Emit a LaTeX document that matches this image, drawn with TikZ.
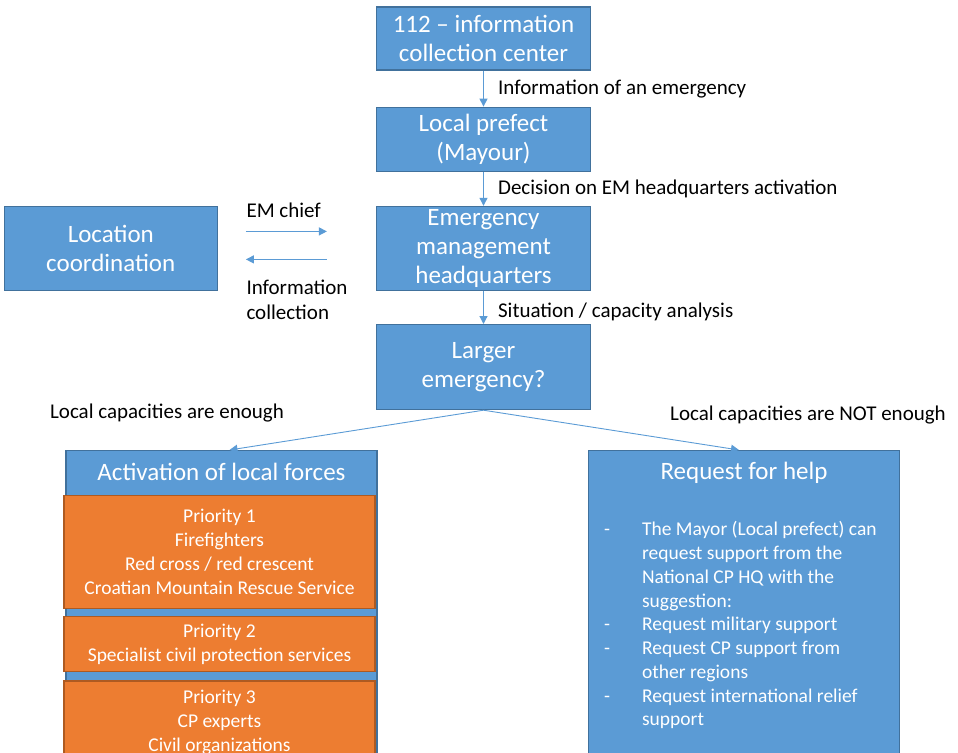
\documentclass[tikz,border=0pt]{standalone}
\usepackage{fontspec}
\setmainfont{Carlito}
\usetikzlibrary{positioning,arrows.meta}
\usepackage{xcolor}
\definecolor{officeblue}{HTML}{5B9BD5}
\definecolor{blueedge}{HTML}{41719C}
\definecolor{officeorange}{HTML}{ED7D31}
\definecolor{orangeedge}{HTML}{AE5A21}

\begin{document}
\begin{tikzpicture}[
    x=1pt, y=1pt,
    >={Triangle[length=8pt, width=8pt]},
    every node/.style={inner sep=0pt},
    block/.style={draw=blueedge, fill=officeblue, line width=1.2pt, text=white,
        minimum width=214pt, align=center, font=\fontsize{25}{29}\selectfont},
    panel/.style={draw=blueedge, fill=officeblue, line width=1.2pt, minimum width=311pt},
    paneltitle/.style={text=white, font=\fontsize{25}{29}\selectfont},
    prio/.style={draw=orangeedge, fill=officeorange, line width=1.2pt, text=white,
        minimum width=311pt, inner ysep=6pt, align=center,
        font=\fontsize{19.5}{24}\selectfont},
    listtext/.style={text=white, align=left, font=\fontsize{19.5}{23.75}\selectfont},
    flow/.style={->, draw=officeblue, line width=1.2pt},
    note/.style={text=black, font=\fontsize{21}{25}\selectfont}
]
    \useasboundingbox (0,0) rectangle (958,-752);

    % main column
    \node[block, minimum height=63pt] (center112) at (483.5,-38.5) {112 – information\\collection center};
    \node[block, minimum height=64pt, below=36pt of center112] (prefect) {Local prefect\\(Mayour)};
    \node[block, minimum height=84pt, below=34pt of prefect] (emhq) {Emergency\\management\\headquarters};
    \node[block, minimum height=85pt, below=33pt of emhq] (larger) {Larger\\emergency?};
    \node[block, minimum width=213pt, minimum height=84pt, left=158pt of emhq] (loccoord) {Location\\coordination};

    \draw[flow] (center112) -- node[note, right=14pt] {Information of an emergency} (prefect);
    \draw[flow] (prefect) -- node[note, right=14pt] {Decision on EM headquarters activation} (emhq);
    \draw[flow] (emhq) -- node[note, right=14pt, yshift=-4pt] {Situation / capacity analysis} (larger);

    % exchange with location coordination
    \coordinate (chiefstart) at ([shift={(28pt,17pt)}]loccoord.east);
    \coordinate (chiefend) at ([shift={(-49pt,17pt)}]emhq.west);
    \coordinate (infostart) at ([shift={(-49pt,-11pt)}]emhq.west);
    \coordinate (infoend) at ([shift={(28pt,-11pt)}]loccoord.east);
    \draw[flow] (chiefstart) -- node[note, pos=0, anchor=south west, yshift=13pt] {EM chief} (chiefend);
    \draw[flow] (infostart) -- node[note, pos=1, anchor=north west, align=left, yshift=-20pt] {Information\\collection} (infoend);

    % two outcomes
    \node[panel, minimum height=310pt, anchor=north] (act) at (221.5,-450) {};
    \node[paneltitle] (acttitle) at ([yshift=-22pt]act.north) {Activation of local forces};
    \node[panel, minimum height=310pt, anchor=north] (request) at (744,-450) {};
    \node[paneltitle] (requesttitle) at ([yshift=-23pt]request.north) {Request for help};

    \draw[flow, line width=0.9pt] (larger.south) -- ([xshift=8pt]act.north);
    \draw[flow, line width=0.9pt] (larger.south) -- ([xshift=-5pt]request.north);
    \node[note] (enough) at (167,-413) {Local capacities are enough};
    \node[note] (notenough) at (808,-415) {Local capacities are NOT enough};

    % priorities
    \node[prio, minimum height=113pt, below=45pt of act.north, xshift=-2pt] (prio1) {Priority 1\\Firefighters\\Red cross / red crescent\\Croatian Mountain Rescue Service};
    \node[prio, minimum height=55pt, below=7pt of prio1] (prio2) {Priority 2\\Specialist civil protection services};
    \node[prio, inner ysep=9pt, below=8pt of prio2] (prio3) {Priority 3\\CP experts\\Civil organizations};

    % request list
    \node[listtext, anchor=north west] (reqlist) at ([shift={(16pt,-69pt)}]request.north west) {%
        \begin{tabular}{@{}p{38pt}@{}l@{}}
        - & The Mayor (Local prefect) can\\
          & request support from the\\
          & National CP HQ with the\\
          & suggestion:\\
        - & Request military support\\
        - & Request CP support from\\
          & other regions\\
        - & Request international relief\\
          & support
        \end{tabular}};
\end{tikzpicture}
\end{document}
